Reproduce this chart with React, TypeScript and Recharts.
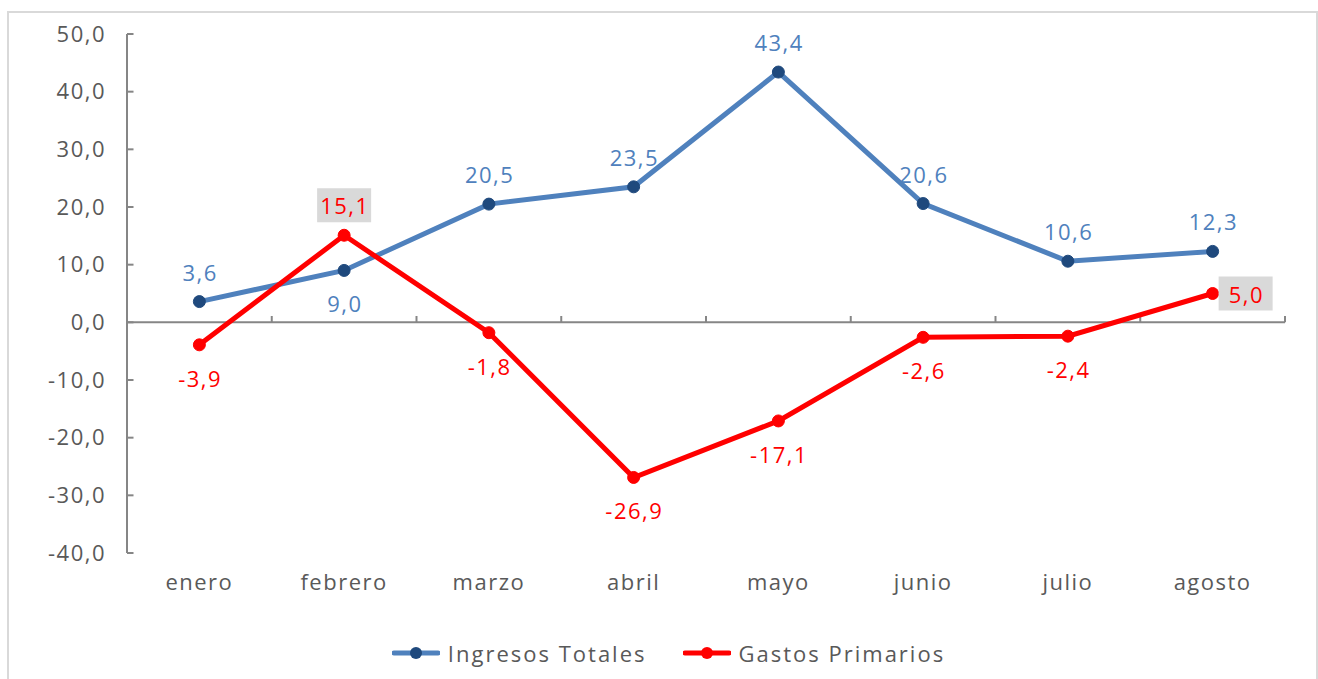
import React from "react";
import {
  LineChart,
  Line,
  XAxis,
  YAxis,
  ReferenceLine,
  Legend,
} from "recharts";

const months = ["enero", "febrero", "marzo", "abril", "mayo", "junio", "julio", "agosto"];
const ingresos = [3.6, 9.0, 20.5, 23.5, 43.4, 20.6, 10.6, 12.3];
const gastos = [-3.9, 15.1, -1.8, -26.9, -17.1, -2.6, -2.4, 5.0];
const yTicks = [-40, -30, -20, -10, 0, 10, 20, 30, 40, 50];
const monthTicks = months.map((_, i) => i + 0.5);
const boundaryTicks = [1, 2, 3, 4, 5, 6, 7, 8];

// where each data label sits relative to its point
const ingresosLabelPos = ["top", "bottom", "top", "top", "top", "top", "top", "top"];
const gastosLabelPos = ["bottom", "top", "bottom", "bottom", "bottom", "bottom", "bottom", "right"];
const gastosBoxed = [false, true, false, false, false, false, false, true];

const BLUE = "#4F81BD";
const NAVY = "#1F497D";
const RED = "#FF0000";
const AXIS = "#868686";
const TEXT = "#595959";
const FONT = "'Open Sans', sans-serif";
const SPACING = 1.5;

const fmt = (v: number) => v.toFixed(1).replace(".", ",");

const data = months.map((m, i) => ({
  x: i + 0.5,
  month: m,
  ingresos: ingresos[i],
  gastos: gastos[i],
}));

function makeLabel(positions: string[], boxed: boolean[] | null, color: string) {
  return (props: any) => {
    const { x, y, value, index } = props;
    const pos = positions[index];
    let tx = x;
    let ty = y;
    if (pos === "top") ty = y - 30;
    else if (pos === "bottom") ty = y + 33;
    else if (pos === "right") tx = x + 33;
    return (
      <g key={`lbl-${index}`}>
        {boxed && boxed[index] && (
          <rect x={tx - 27} y={ty - 17} width={54} height={34} fill="#D9D9D9" />
        )}
        <text
          x={tx + SPACING / 2}
          y={ty}
          textAnchor="middle"
          dominantBaseline="central"
          fill={color}
          fontSize={22}
          fontFamily={FONT}
          style={{ letterSpacing: SPACING }}
        >
          {fmt(value)}
        </text>
      </g>
    );
  };
}

function LegendContent() {
  const items = [
    { label: "Ingresos Totales", line: BLUE, dot: NAVY },
    { label: "Gastos Primarios", line: RED, dot: RED },
  ];
  return (
    <div
      style={{
        height: 30,
        display: "flex",
        justifyContent: "center",
        alignItems: "center",
        gap: 36,
        paddingLeft: 52,
        fontFamily: FONT,
        fontSize: 22,
        letterSpacing: 2,
        color: TEXT,
      }}
    >
      {items.map((it) => (
        <div key={it.label} style={{ display: "flex", alignItems: "center", gap: 8 }}>
          <svg width={48} height={16}>
            <line x1={2} y1={8} x2={46} y2={8} stroke={it.line} strokeWidth={5} strokeLinecap="round" />
            <circle cx={24} cy={8} r={6} fill={it.dot} />
          </svg>
          <span>{it.label}</span>
        </div>
      ))}
    </div>
  );
}

export default function App() {
  return (
    <div style={{ position: "absolute", left: 0, top: 0, width: 1318, height: 679, background: "#fff" }}>
      <div
        style={{
          position: "absolute",
          left: 7,
          top: 11,
          width: 1311,
          height: 700,
          border: "2px solid #D9D9D9",
          boxSizing: "border-box",
        }}
      />
      <LineChart
        width={1318}
        height={679}
        data={data}
        margin={{ top: 34, right: 33, left: 0, bottom: 11 }}
        style={{ position: "absolute", left: 0, top: 0 }}
      >
        <XAxis
          dataKey="x"
          type="number"
          domain={[0, 8]}
          ticks={monthTicks}
          tickFormatter={(v: number) => months[Math.floor(v)]}
          axisLine={false}
          tickLine={false}
          tickSize={0}
          tickMargin={21}
          height={85}
          tick={{ fill: TEXT, fontSize: 22, fontFamily: FONT, style: { letterSpacing: SPACING } }}
        />
        <YAxis
          domain={[-40, 50]}
          ticks={yTicks}
          tickFormatter={fmt}
          width={127}
          axisLine={{ stroke: AXIS, strokeWidth: 2 }}
          tickLine={false}
          tickSize={0}
          tickMargin={21}
          tick={{ fill: TEXT, fontSize: 22, fontFamily: FONT, style: { letterSpacing: SPACING } }}
        />
        <ReferenceLine y={0} stroke={AXIS} strokeWidth={2} />
        {yTicks.map((t) => (
          <ReferenceLine
            key={`yt-${t}`}
            segment={[{ x: 0, y: t }, { x: 0.045, y: t }]}
            stroke={AXIS}
            strokeWidth={2}
            ifOverflow="visible"
          />
        ))}
        {boundaryTicks.map((b) => (
          <ReferenceLine
            key={`xt-${b}`}
            segment={[{ x: b, y: 0 }, { x: b, y: 1.1 }]}
            stroke={AXIS}
            strokeWidth={2}
            ifOverflow="visible"
          />
        ))}
        <Legend verticalAlign="bottom" content={() => <LegendContent />} />
        <Line
          dataKey="ingresos"
          name="Ingresos Totales"
          stroke={BLUE}
          strokeWidth={5}
          dot={{ r: 6, fill: NAVY, stroke: NAVY, strokeWidth: 1 }}
          activeDot={false}
          isAnimationActive={false}
          label={makeLabel(ingresosLabelPos, null, BLUE)}
        />
        <Line
          dataKey="gastos"
          name="Gastos Primarios"
          stroke={RED}
          strokeWidth={5}
          dot={{ r: 6, fill: RED, stroke: RED, strokeWidth: 1 }}
          activeDot={false}
          isAnimationActive={false}
          label={makeLabel(gastosLabelPos, gastosBoxed, RED)}
        />
      </LineChart>
    </div>
  );
}
